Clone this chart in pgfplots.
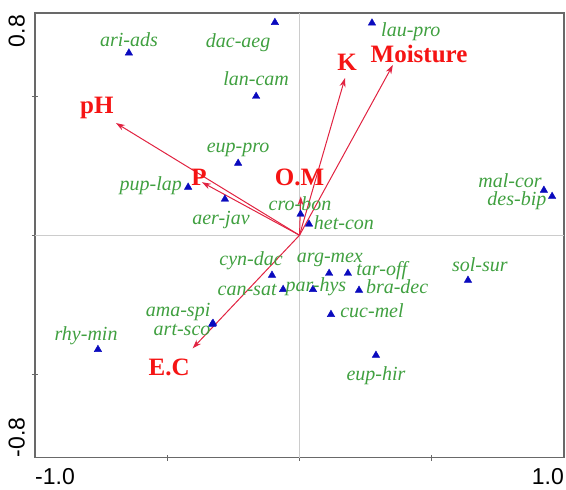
\documentclass[border=0pt]{standalone}
\usepackage{fontspec}
\setmainfont{Liberation Serif}
\newfontfamily\arialf{Liberation Sans}
\usepackage{pgfplots}
\pgfplotsset{compat=1.18}
\usepackage{pgfplotstable}
\usetikzlibrary{arrows.meta}

\definecolor{sppgreen}{RGB}{64,160,64}
\definecolor{envred}{RGB}{245,20,20}
\definecolor{arrred}{RGB}{225,35,65}
\definecolor{triblue}{RGB}{10,10,190}
\definecolor{framegray}{RGB}{105,105,105}

% species scores
\pgfplotstableread{
x y
-0.645 0.656
-0.093 0.766
-0.164 0.500
-0.232 0.259
-0.421 0.173
-0.282 0.130
0.004 0.076
0.036 0.040
0.274 0.764
0.924 0.162
0.955 0.140
-0.104 -0.144
-0.062 -0.195
0.051 -0.195
0.112 -0.137
0.183 -0.137
0.225 -0.198
0.119 -0.285
0.289 -0.432
0.637 -0.162
-0.327 -0.317
-0.330 -0.320
-0.762 -0.411
}\species

% species label positions
\pgfplotstableread{
x y lab
-0.645 0.703 ari-ads
-0.232 0.692 dac-aeg
-0.164 0.562 lan-cam
-0.232 0.306 eup-pro
-0.562 0.180 pup-lap
-0.297 0.054 aer-jav
0.002 0.112 cro-bon
0.168 0.047 het-con
0.421 0.731 lau-pro
0.796 0.195 mal-cor
0.822 0.123 des-bip
-0.183 -0.090 cyn-dac
-0.198 -0.198 can-sat
-0.459 -0.277 ama-spi
-0.444 -0.342 art-sco
-0.807 -0.360 rhy-min
0.115 -0.090 arg-mex
0.311 -0.126 tar-off
0.062 -0.184 par-hys
0.369 -0.184 bra-dec
0.274 -0.270 cuc-mel
0.289 -0.504 eup-hir
0.682 -0.105 sol-sur
}\spplabels

% environmental vectors
\pgfplotstableread{
x y u v
0 0 -0.694 0.404
0 0 -0.369 0.191
0 0 0.172 0.566
0 0 0.353 0.613
0 0 0.005 0.140
0 0 -0.404 -0.407
}\envarrows

\pgfplotstableread{
x y lab
-0.766 0.458 pH
-0.380 0.210 P
0.180 0.623 K
0.452 0.652 Moisture
0.000 0.209 O.M
-0.493 -0.476 E.C
}\envlabels

\begin{document}
\begin{tikzpicture}
\begin{axis}[
  width=529pt, height=444.5pt,
  scale only axis,
  xmin=-1, xmax=1, ymin=-0.8, ymax=0.8,
  xtick={-0.5,0,0.5}, ytick={-0.5,0,0.5},
  xticklabels={}, yticklabels={},
  tick pos=left, tick align=center,
  major tick length=6pt,
  tick style={framegray, line width=1pt},
  axis line style={framegray, line width=1.6pt},
  clip=false,
]
  \draw[gray!40, line width=0.8pt] (axis cs:0,-0.8) -- (axis cs:0,0.8);
  \draw[gray!40, line width=0.8pt] (axis cs:-1,0) -- (axis cs:1,0);

  \addplot[quiver={u=\thisrow{u}, v=\thisrow{v}},
    -{Stealth[length=9pt,width=6pt]}, draw=arrred, line width=1pt]
    table {\envarrows};

  \addplot[only marks, mark=triangle*, mark size=4.3pt,
    mark options={fill=triblue, draw=triblue}]
    table {\species};

  \addplot[only marks, mark=none, nodes near coords,
    point meta=explicit symbolic,
    nodes near coords style={anchor=center, inner sep=0pt,
      font=\fontsize{20}{22}\selectfont\itshape, text=sppgreen}]
    table[meta=lab] {\spplabels};

  \addplot[only marks, mark=none, nodes near coords,
    point meta=explicit symbolic,
    nodes near coords style={anchor=center, inner sep=0pt,
      font=\fontsize{25}{27}\selectfont\bfseries, text=envred}]
    table[meta=lab] {\envlabels};

  \node[anchor=north west, inner sep=0pt, font=\arialf\fontsize{23}{25}\selectfont]
    at ([yshift=-11pt]rel axis cs:0,0) {-1.0};
  \node[anchor=north east, inner sep=0pt, font=\arialf\fontsize{23}{25}\selectfont]
    at ([yshift=-11pt]rel axis cs:1,0) {1.0};
  \node[rotate=90, anchor=south east, inner sep=0pt, font=\arialf\fontsize{23}{25}\selectfont]
    at ([xshift=-10pt,yshift=-2pt]rel axis cs:0,1) {0.8};
  \node[rotate=90, anchor=south west, inner sep=0pt, font=\arialf\fontsize{23}{25}\selectfont]
    at ([xshift=-10pt]rel axis cs:0,0) {-0.8};

  \path ([xshift=-35pt,yshift=-31.5pt]rel axis cs:0,0)
        ([xshift=2pt,yshift=13pt]rel axis cs:1,1);
\end{axis}
\end{tikzpicture}
\end{document}
